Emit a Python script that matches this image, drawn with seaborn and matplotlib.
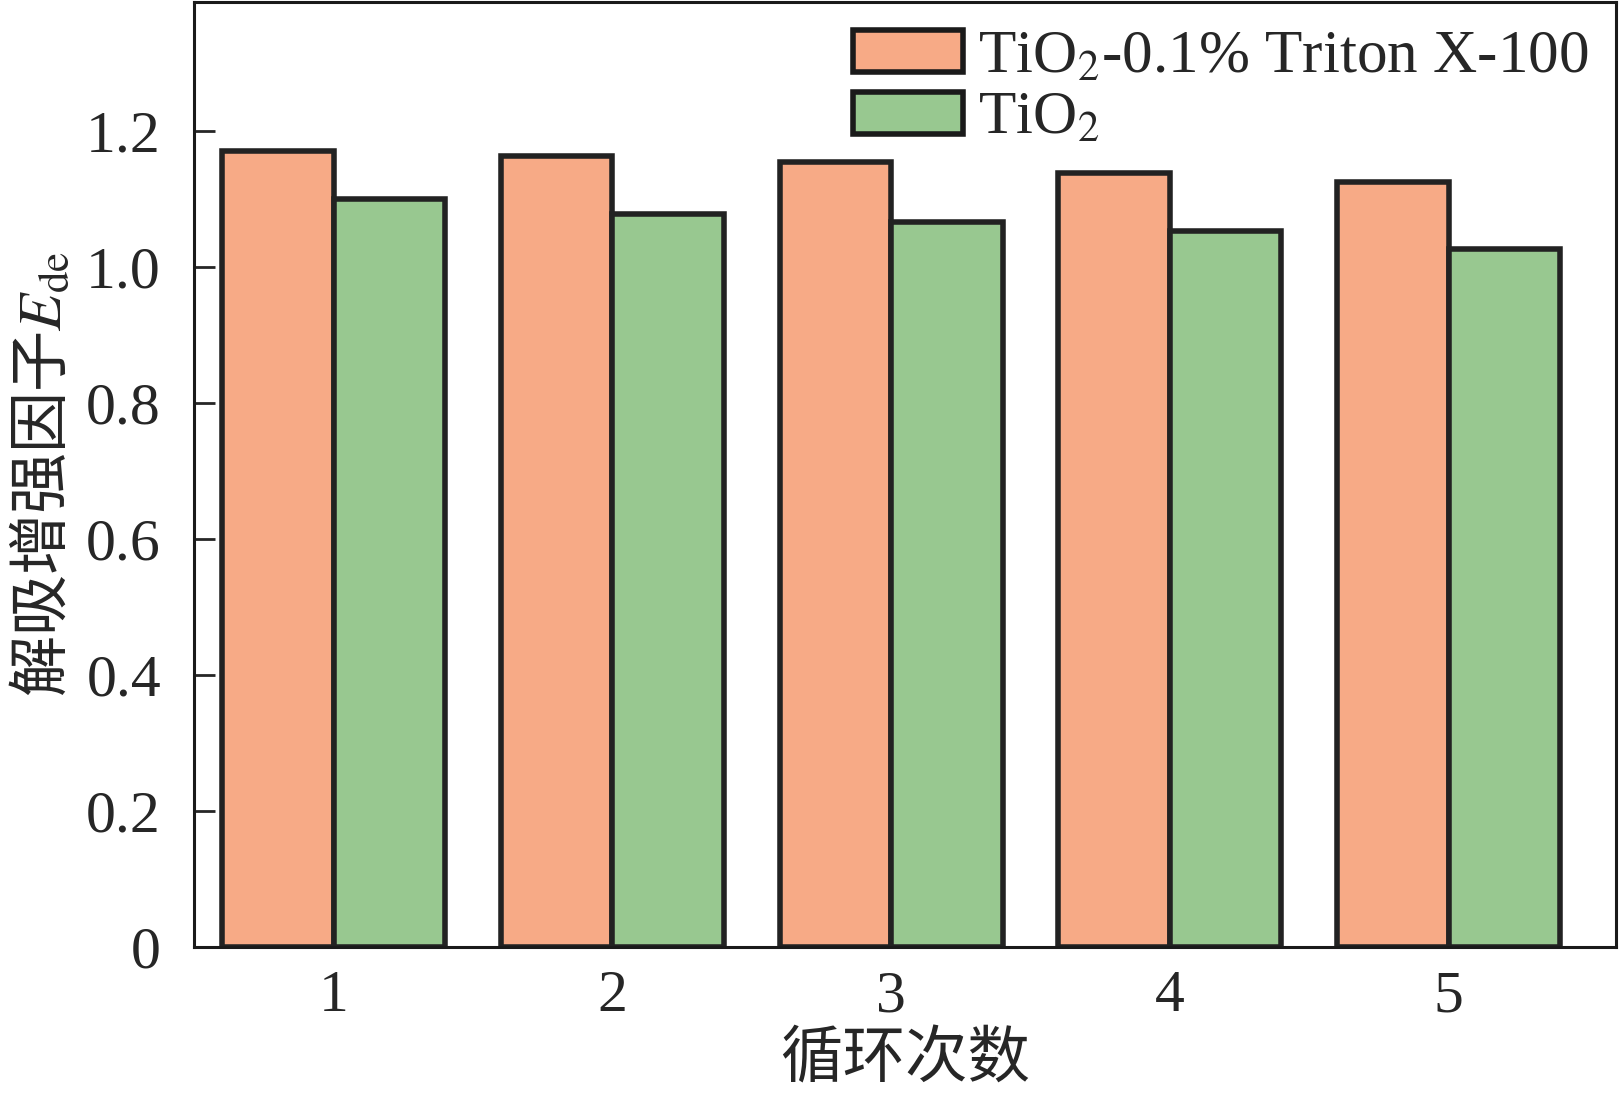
import pandas as pd
import matplotlib
matplotlib.use("Agg")
import matplotlib.pyplot as plt
import seaborn as sns
from matplotlib.patches import Patch
from matplotlib.ticker import FuncFormatter

# values
cycles = ["1", "2", "3", "4", "5"]
triton = [1.171, 1.164, 1.155, 1.138, 1.126]
tio2 = [1.101, 1.079, 1.066, 1.053, 1.027]
series_names = ["TiO$_2$-0.1% Triton X-100", "TiO$_2$"]
colors = ["#F7AA86", "#98C890"]

df = pd.DataFrame({
    "cycle": cycles * 2,
    "value": triton + tio2,
    "series": [series_names[0]] * 5 + [series_names[1]] * 5,
})

sns.set_style("ticks")
plt.rcParams["font.family"] = ["Liberation Serif", "Noto Sans CJK SC"]
plt.rcParams["mathtext.fontset"] = "stix"

fig = plt.figure(figsize=(16.19, 11.06), dpi=100)
ax = fig.add_axes([0.12, 0.144, 0.878, 0.854])

sns.barplot(data=df, x="cycle", y="value", hue="series", palette=colors,
            width=0.8, edgecolor="#222222", linewidth=4, saturation=1,
            legend=False, ax=ax)

ax.set_xlim(-0.5, 4.6)
ax.set_ylim(0, 1.39)
ax.set_yticks([0, 0.2, 0.4, 0.6, 0.8, 1.0, 1.2])
ax.yaxis.set_major_formatter(FuncFormatter(lambda v, p: "0" if v == 0 else f"{v:.1f}"))

ax.tick_params(axis="y", direction="in", length=15, width=2, labelsize=43, pad=24)
ax.tick_params(axis="x", length=0, labelsize=43, pad=17)

for s in ax.spines.values():
    s.set_linewidth(2.2)
    s.set_color("#1a1a1a")

ax.set_xlabel("循环次数", fontsize=45, labelpad=2, family="Noto Sans CJK SC")
ax.set_ylabel("解吸增强因子$\\mathit{E}_{\\mathrm{de}}$", fontsize=44, labelpad=8,
              family="Noto Sans CJK SC")

handles = [Patch(facecolor=c, edgecolor="#1a1a1a", linewidth=4) for c in colors]
ax.legend(handles, series_names, loc="upper right", frameon=False, fontsize=44,
          handlelength=1.8, handleheight=0.7, labelspacing=0.1, handletextpad=0.25,
          borderaxespad=0.25, borderpad=0.2)

fig.savefig("out.png", dpi=100)
